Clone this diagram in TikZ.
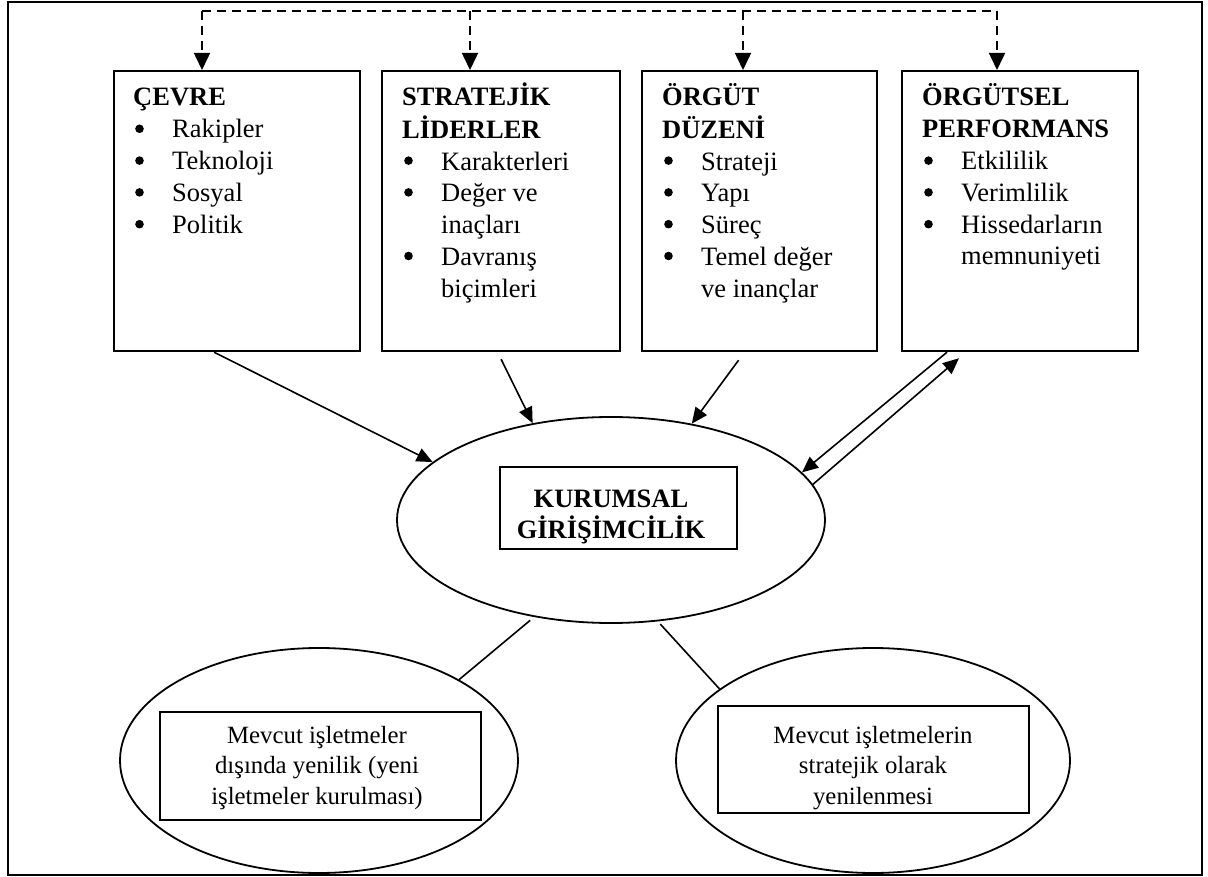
\documentclass[tikz,border=0pt]{standalone}
\usepackage{fontspec}
\setmainfont{Liberation Serif}
\usetikzlibrary{arrows.meta,shapes.geometric,calc}
% indent of the item text (the bullets themselves are drawn as dots)
\newcommand\ind{\hspace*{39pt}}
\begin{document}
\begin{tikzpicture}[x=1pt,y=-1pt,
  outerframe/.style={draw,line width=2.6pt},
  factorbox/.style={draw,line width=2.2pt,rectangle,inner sep=0pt,anchor=north west,minimum height=280pt},
  listtext/.style={inner sep=0pt,anchor=base west,align=left,font=\fontsize{26.5}{31.8}\selectfont},
  oval/.style={draw,ellipse,line width=1.8pt,inner sep=0pt},
  framebox/.style={draw,rectangle,line width=2pt,inner sep=0pt},
  centertext/.style={inner sep=0pt,align=center,font=\bfseries\fontsize{26.5}{31}\selectfont},
  lowertext/.style={inner sep=0pt,align=center,font=\fontsize{24.8}{30.5}\selectfont},
  dashline/.style={line width=1.6pt,dash pattern=on 9pt off 6pt},
  arr/.style={line width=1.6pt,-{Triangle[length=16pt,width=14pt]}},
  link/.style={line width=1.6pt}]
\useasboundingbox (0,0) rectangle (1208,877);
\draw[outerframe] (8,2) rectangle (1202,875);

% four factor boxes
\node[factorbox,minimum width=246pt] (cevre) at (113,70) {};
\node[factorbox,minimum width=238pt] (lider) at (381,70) {};
\node[factorbox,minimum width=235pt] (duzen) at (641,70) {};
\node[factorbox,minimum width=236pt] (perf)  at (901,70) {};

\node[listtext] (cevre-t) at ($(cevre.north west)+(20,36)$) {%
  \begin{tabular}[t]{@{}l@{}}
  \textbf{ÇEVRE}\\
  \ind Rakipler\\
  \ind Teknoloji\\
  \ind Sosyal\\
  \ind Politik
  \end{tabular}};
\node[listtext] (lider-t) at ($(lider.north west)+(21,36)$) {%
  \begin{tabular}[t]{@{}l@{}}
  \textbf{STRATEJİK}\\
  \textbf{LİDERLER}\\
  \ind Karakterleri\\
  \ind Değer ve\\
  \ind inaçları\\
  \ind Davranış\\
  \ind biçimleri
  \end{tabular}};
\node[listtext] (duzen-t) at ($(duzen.north west)+(21,36)$) {%
  \begin{tabular}[t]{@{}l@{}}
  \textbf{ÖRGÜT}\\
  \textbf{DÜZENİ}\\
  \ind Strateji\\
  \ind Yapı\\
  \ind Süreç\\
  \ind Temel değer\\
  \ind ve inançlar
  \end{tabular}};
\node[listtext] (perf-t) at ($(perf.north west)+(21,36)$) {%
  \begin{tabular}[t]{@{}l@{}}
  \textbf{ÖRGÜTSEL}\\
  \textbf{PERFORMANS}\\
  \ind Etkililik\\
  \ind Verimlilik\\
  \ind Hissedarların\\
  \ind memnuniyeti
  \end{tabular}};

% bullet dots, one per list item (row index within each list)
\foreach \t/\rows in {cevre-t/{1,2,3,4},lider-t/{2,3,5},duzen-t/{2,3,4,5},perf-t/{2,3,4}}
  \foreach \r in \rows
    \fill ($(\t.base west)+(6.5,31.8*\r-9)$) circle (4.3pt);

% central ellipse
\node[oval,minimum width=428pt,minimum height=206pt] (ke) at (611,520) {};
\node[framebox,minimum width=237pt,minimum height=82pt] (kbox) at (618.5,508) {};
\node[centertext] (ktext) at (611,517) {KURUMSAL\\GİRİŞİMCİLİK};

% lower ellipses
\node[oval,minimum width=398pt,minimum height=225pt] (le) at (319,760.5) {};
\node[framebox,minimum width=321pt,minimum height=108pt] (lbox) at (320.5,766) {};
\node[lowertext] (ltext) at (317,768) {Mevcut işletmeler\\dışında yenilik (yeni\\işletmeler kurulması)};

\node[oval,minimum width=394pt,minimum height=225pt] (re) at (873,760.5) {};
\node[framebox,minimum width=311pt,minimum height=107pt] (rbox) at (873.5,759.5) {};
\node[lowertext] (rtext) at (873,768) {Mevcut işletmelerin\\stratejik olarak\\yenilenmesi};

% dashed feedback line across the top
\coordinate (d1) at (202,11);
\coordinate (d2) at (470,11);
\coordinate (d3) at (743,11);
\coordinate (d4) at (997,11);
\draw[dashline] (d1) -- (d4);
\foreach \d/\b in {d1/cevre,d2/lider,d3/duzen,d4/perf}
  \draw[dashline,-{Triangle[length=17pt,width=16pt]}] (\d) -- (\d |- \b.north);

% influences on corporate entrepreneurship
\draw[arr] ([xshift=-23pt]cevre.south) -- (ke.162);
\draw[arr] ([yshift=-7pt]lider.south) -- (ke.129);
\draw[arr] ([xshift=-21pt,yshift=-8pt]duzen.south) -- (ke.50);
\draw[arr] ([xshift=46pt]perf.south west) -- (ke.14);
\draw[arr] (ke.10) -- ([xshift=58pt,yshift=-6pt]perf.south west);

% forms of corporate entrepreneurship
\draw[link] ([yshift=-4pt]ke.230) -- (le.30);
\draw[link] ([yshift=-3pt]ke.-64) -- (re.155);
\end{tikzpicture}
\end{document}
